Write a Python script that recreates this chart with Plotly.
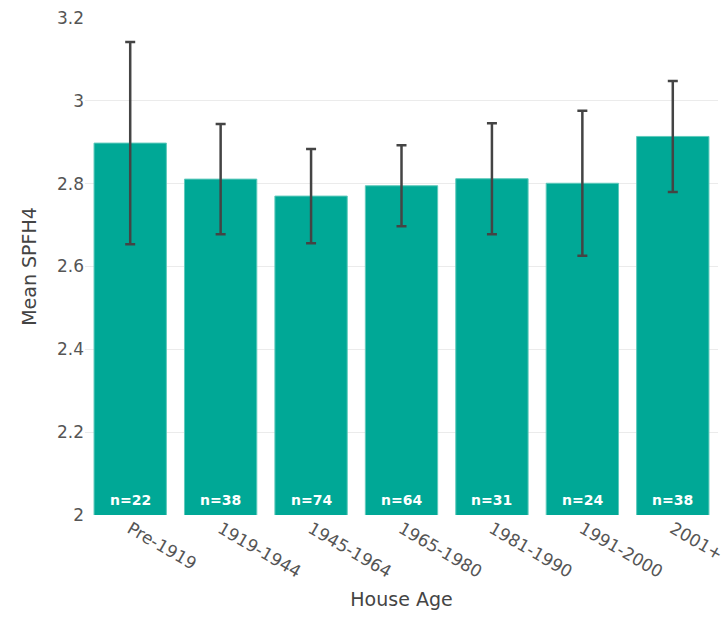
import plotly.graph_objects as go

# Mean SPFH4 by house construction period
house_age = ["Pre-1919", "1919-1944", "1945-1964", "1965-1980", "1981-1990", "1991-2000", "2001+"]
mean_spfh4 = [2.898, 2.811, 2.770, 2.795, 2.812, 2.801, 2.914]
ci_half = [0.244, 0.133, 0.114, 0.098, 0.134, 0.175, 0.134]
n_homes = [22, 38, 74, 64, 31, 24, 38]

font_family = "DejaVu Sans"
y_floor = 2.0

fig = go.Figure(
    go.Bar(
        x=house_age,
        y=mean_spfh4,
        marker=dict(color="#00A896", line=dict(color="#5FCABC", width=1)),
        error_y=dict(type="data", array=ci_half, visible=True,
                     color="#444444", thickness=2.5, width=5),
        hoverinfo="skip",
    )
)

# sample-size labels sitting at the foot of each bar
for cat, n in zip(house_age, n_homes):
    fig.add_annotation(
        x=cat, y=y_floor, text=f"<b>n={n}</b>",
        showarrow=False, yanchor="bottom", yshift=5,
        font=dict(family=font_family, size=14, color="white"),
    )

fig.update_layout(
    width=724,
    height=617,
    margin=dict(l=85, r=6, t=18, b=102),
    paper_bgcolor="white",
    plot_bgcolor="white",
    bargap=0.2,
    showlegend=False,
    font=dict(family=font_family, color="#444444"),
    xaxis=dict(
        title=dict(text="House Age", font=dict(size=19, color="#444444"), standoff=12),
        tickangle=30,
        tickfont=dict(size=17, color="#555555"),
        showgrid=False,
        showline=False,
        automargin=False,
    ),
    yaxis=dict(
        title=dict(text="Mean SPFH4", font=dict(size=19, color="#444444")),
        range=[y_floor, 3.2],
        dtick=0.2,
        tickfont=dict(size=17, color="#555555"),
        gridcolor="#EBEBEB",
        showline=False,
        zeroline=False,
        automargin=False,
    ),
)

fig.write_html("out.html")
